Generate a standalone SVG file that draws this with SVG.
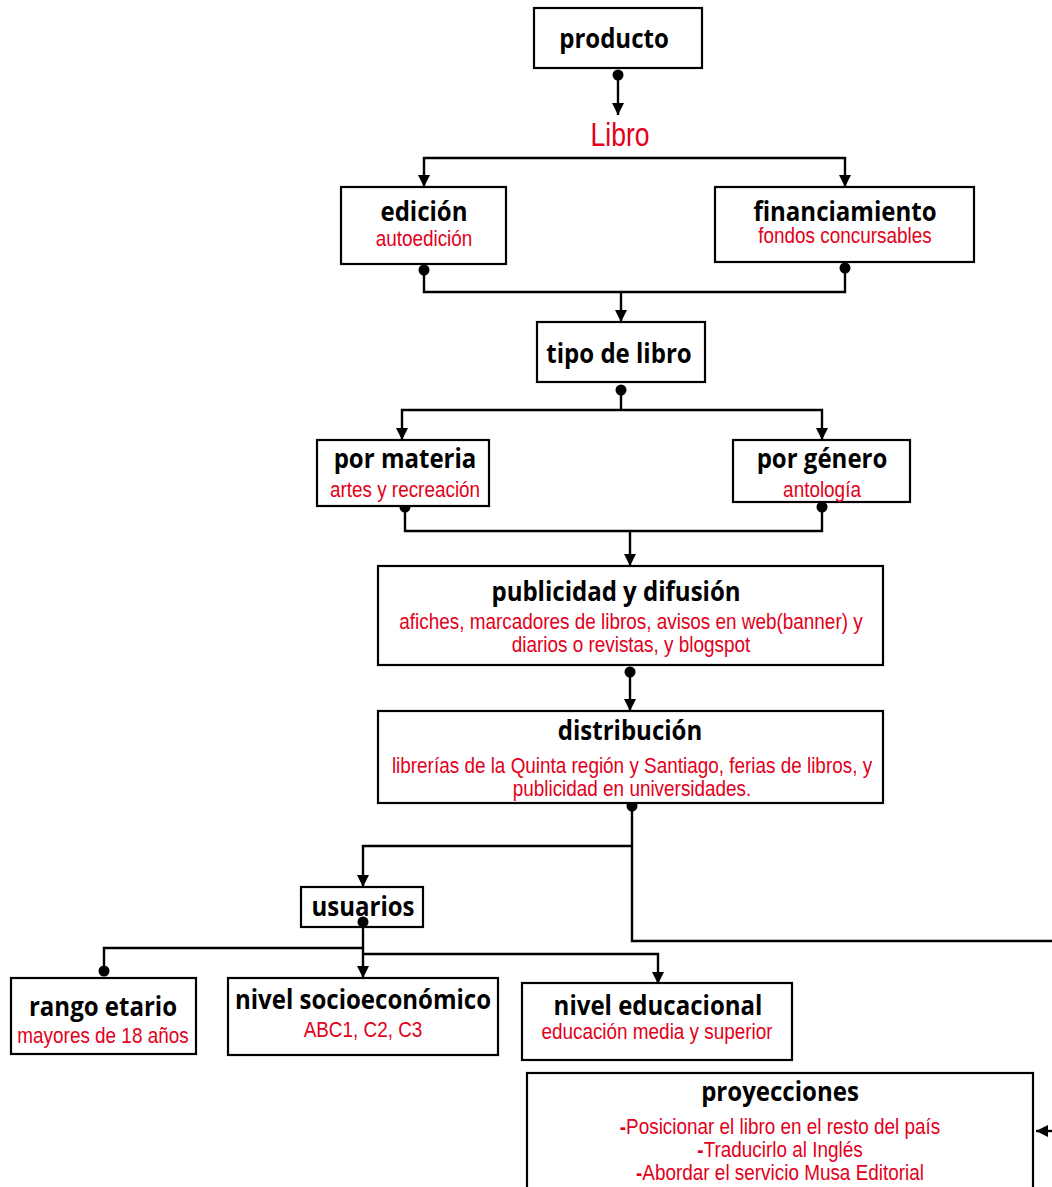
<svg xmlns="http://www.w3.org/2000/svg" width="1052" height="1187" viewBox="0 0 1052 1187">
<style>
.box{fill:#fff;stroke:#000;stroke-width:2.2}
.t{font-family:"Open Sans","Noto Sans",sans-serif;font-weight:bold;font-size:27px;fill:#000;text-anchor:middle}
.s{font-family:"Liberation Sans",Arial,sans-serif;font-size:22px;fill:#e2001a;text-anchor:middle}
.c{fill:none;stroke:#000;stroke-width:2.4}
</style>
<defs>
<marker id="arr" markerUnits="userSpaceOnUse" markerWidth="14" markerHeight="14" refX="12" refY="6" orient="auto"><path d="M0,0 L12,6 L0,12 Z" fill="#000"/></marker>
<marker id="dot" markerUnits="userSpaceOnUse" markerWidth="12" markerHeight="12" refX="6" refY="6" orient="auto"><circle cx="6" cy="6" r="5.5" fill="#000"/></marker>
</defs>
<g id="connectors">
<path class="c" d="M618,75 V115" marker-start="url(#dot)" marker-end="url(#arr)"/>
<path class="c" d="M621,158 H424 V187" marker-end="url(#arr)"/>
<path class="c" d="M621,158 H845 V187" marker-end="url(#arr)"/>
<path class="c" d="M424,270 V292 H845 V268" marker-start="url(#dot)" marker-end="url(#dot)"/>
<path class="c" d="M621,292 V322" marker-end="url(#arr)"/>
<path class="c" d="M621,390 V410" marker-start="url(#dot)"/>
<path class="c" d="M621,410 H402 V440" marker-end="url(#arr)"/>
<path class="c" d="M621,410 H822 V440" marker-end="url(#arr)"/>
<path class="c" d="M405,507 V531 H822 V507" marker-start="url(#dot)" marker-end="url(#dot)"/>
<path class="c" d="M630,531 V566" marker-end="url(#arr)"/>
<path class="c" d="M630,672 V711" marker-start="url(#dot)" marker-end="url(#arr)"/>
<path class="c" d="M632,806 V941 H1052" marker-start="url(#dot)"/>
<path class="c" d="M632,846 H363 V887" marker-end="url(#arr)"/>
<path class="c" d="M1052,1131 H1036" marker-end="url(#arr)"/>
</g>
<g id="producto"><rect class="box" x="534" y="8" width="168" height="60"/><text class="t" transform="translate(614 48) scale(0.89 1)">producto</text></g>
<g id="libro"><text transform="translate(620 146) scale(0.78 1)" font-family="Liberation Sans,Arial,sans-serif" font-size="34" fill="#e2001a" text-anchor="middle">Libro</text></g>
<g id="edicion"><rect class="box" x="341" y="187" width="165" height="77"/><text class="t" transform="translate(424 221) scale(0.89 1)">edición</text><text class="s" transform="translate(424 246) scale(0.86 1)">autoedición</text></g>
<g id="financiamiento"><rect class="box" x="715" y="187" width="259" height="75"/><text class="t" transform="translate(845 221) scale(0.89 1)">financiamiento</text><text class="s" transform="translate(845 243) scale(0.86 1)">fondos concursables</text></g>
<g id="tipo"><rect class="box" x="537" y="322" width="168" height="60"/><text class="t" transform="translate(619 363) scale(0.89 1)">tipo de libro</text></g>
<g id="materia"><rect class="box" x="317" y="440" width="172" height="66"/><text class="t" transform="translate(405 468) scale(0.89 1)">por materia</text><text class="s" transform="translate(405 497) scale(0.86 1)">artes y recreación</text></g>
<g id="genero"><rect class="box" x="733" y="440" width="177" height="62"/><text class="t" transform="translate(822 468) scale(0.89 1)">por género</text><text class="s" transform="translate(822 497) scale(0.86 1)">antología</text></g>
<g id="publicidad"><rect class="box" x="378" y="566" width="505" height="99"/><text class="t" transform="translate(616 601) scale(0.89 1)">publicidad y difusión</text><text class="s" transform="translate(631 629) scale(0.86 1)">afiches, marcadores de libros, avisos en web(banner) y</text><text class="s" transform="translate(631 652) scale(0.86 1)">diarios o revistas, y blogspot</text></g>
<g id="distribucion"><rect class="box" x="378" y="711" width="505" height="92"/><text class="t" transform="translate(630 740) scale(0.89 1)">distribución</text><text class="s" transform="translate(632 773) scale(0.86 1)">librerías de la Quinta región y Santiago, ferias de libros, y</text><text class="s" transform="translate(632 796) scale(0.86 1)">publicidad en universidades.</text></g>
<g id="usuarios"><rect class="box" x="301" y="887" width="122" height="40" stroke-width="1.5"/><text class="t" transform="translate(363 916) scale(0.89 1)">usuarios</text></g>
<g id="usuarios-links">
<path class="c" d="M363,922 V978" marker-start="url(#dot)" marker-end="url(#arr)"/>
<path class="c" d="M363,948 H104 V971" marker-end="url(#dot)"/>
<path class="c" d="M363,954 H658 V984" marker-end="url(#arr)"/>
</g>
<g id="rango"><rect class="box" x="11" y="978" width="185" height="76"/><text class="t" transform="translate(103 1016) scale(0.89 1)">rango etario</text><text class="s" transform="translate(103 1043) scale(0.86 1)">mayores de 18 años</text></g>
<g id="socio"><rect class="box" x="228" y="978" width="270" height="77" stroke-width="3"/><text class="t" transform="translate(363 1009) scale(0.89 1)">nivel socioeconómico</text><text class="s" transform="translate(363 1037) scale(0.86 1)">ABC1, C2, C3</text></g>
<g id="educacional"><rect class="box" x="522" y="983" width="270" height="77" stroke-width="3"/><text class="t" transform="translate(658 1015) scale(0.89 1)">nivel educacional</text><text class="s" transform="translate(657 1039) scale(0.86 1)">educación media y superior</text></g>
<g id="proyecciones"><rect class="box" x="527" y="1073" width="506" height="140"/><text class="t" transform="translate(780 1101) scale(0.89 1)">proyecciones</text>
<text class="s" transform="translate(780 1134) scale(0.86 1)"><tspan font-weight="bold">-</tspan>Posicionar el libro en el resto del país</text>
<text class="s" transform="translate(780 1157) scale(0.86 1)"><tspan font-weight="bold">-</tspan>Traducirlo al Inglés</text>
<text class="s" transform="translate(780 1180) scale(0.86 1)"><tspan font-weight="bold">-</tspan>Abordar el servicio Musa Editorial</text></g>
</svg>
